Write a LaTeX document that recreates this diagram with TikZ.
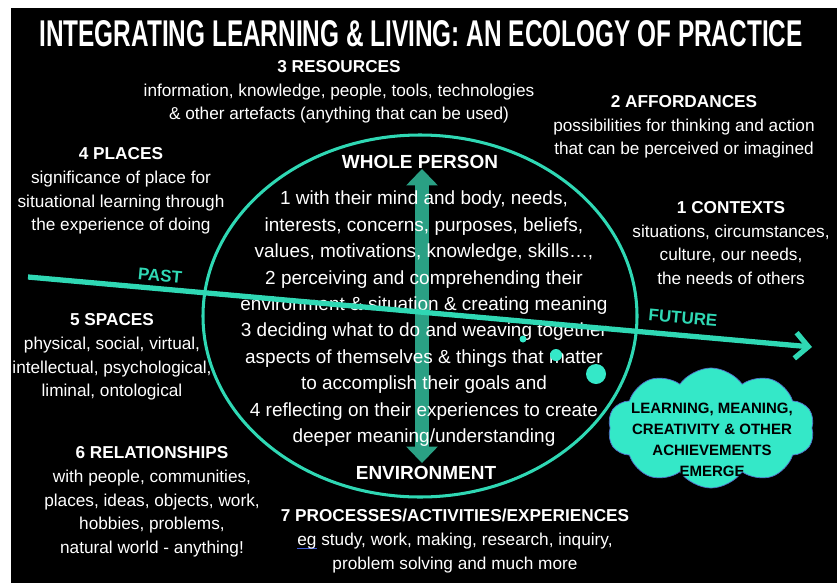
\documentclass[tikz,border=0pt]{standalone}
\usepackage{graphicx}
\usepackage{fontspec}
\setmainfont{Liberation Sans}
\usetikzlibrary{arrows.meta,shapes.symbols}

\definecolor{ecoteal}{RGB}{47,216,180}
\definecolor{arrowteal}{RGB}{42,160,132}
\definecolor{cloudfill}{RGB}{52,232,200}
\definecolor{cloudedge}{RGB}{80,110,200}
\definecolor{spellblue}{RGB}{60,90,220}

\newsavebox\spellbox
\newcommand\spellmark[1]{\sbox\spellbox{#1}\rlap{\textcolor{spellblue}{\rule[-0.4ex]{\wd\spellbox}{0.8pt}}}#1}

\tikzset{
  block/.style={text=white, align=center, font=\fontsize{14.7}{20.2}\selectfont},
  inner/.style={text=white, font=\fontsize{16.2}{20}\selectfont, inner sep=0pt},
  pole/.style={text=white, font=\bfseries\fontsize{16.2}{20}\selectfont, inner sep=1pt},
  timelabel/.style={text=ecoteal, font=\bfseries\fontsize{14.5}{17}\selectfont, rotate=-5.2},
}

\begin{document}
\begin{tikzpicture}[x=0.03cm, y=-0.03cm]
  % Page and black board
  \fill[white] (0,0) rectangle (837,583);
  \fill[black] (11,8) rectangle (837,583);
  \useasboundingbox (0,0) rectangle (837,583);

  % Title
  \node[text=white, inner sep=0pt] (title) at (421,34)
    {\resizebox{22.9cm}{0.78cm}{\bfseries INTEGRATING LEARNING \& LIVING: AN ECOLOGY OF PRACTICE}};

  % Person <-> environment
  \coordinate (up) at (422,169);
  \coordinate (down) at (422,463);
  \draw[arrowteal, line width=12.5pt,
        {Triangle[width=27pt,length=14pt,line width=0pt]}-{Triangle[width=27pt,length=14pt,line width=0pt]}]
    (up) -- (down);

  % Whole person
  \draw[ecoteal, line width=2.6pt] (420,316) ellipse [x radius=217, y radius=181];
  \node[pole] (whole) at (420,162) {WHOLE PERSON};
  \node[pole] (environment) at (426,473) {ENVIRONMENT};
  \foreach \ln [count=\i] in {
    {1 with their mind and body, needs,},
    {interests, concerns, purposes, beliefs,},
    {values, motivations, knowledge, skills\ldots,},
    {2 perceiving and comprehending their},
    {environment \& situation \& creating meaning},
    {3 deciding what to do and weaving together},
    {aspects of themselves \& things that matter},
    {to accomplish their goals and},
    {4 reflecting on their experiences to create},
    {deeper meaning/understanding}
  } {
    \node[inner] (person\i) at (424,173.6+26.4*\i) {\ln};
  }

  % Surrounding ecology
  \node[block] (resources) at (339,92)
    {\textbf{3 RESOURCES}\\information, knowledge, people, tools, technologies\\\& other artefacts (anything that can be used)};
  \node[block] (affordances) at (684,127)
    {\textbf{2 AFFORDANCES}\\possibilities for thinking and action\\that can be perceived or imagined};
  \node[block] (places) at (121,191)
    {\textbf{4 PLACES}\\significance of place for\\situational learning through\\the experience of doing};
  \node[block] (contexts) at (731,243)
    {\textbf{1 CONTEXTS}\\situations, circumstances,\\culture, our needs,\\the needs of others};
  \node[block] (spaces) at (112,357)
    {\textbf{5 SPACES}\\physical, social, virtual,\\intellectual, psychological,\\liminal, ontological};
  \node[block] (relationships) at (152,502)
    {\textbf{6 RELATIONSHIPS}\\with people, communities,\\places, ideas, objects, work,\\hobbies, problems,\\natural world - anything!};
  \node[block] (processes) at (455,541)
    {\textbf{7 PROCESSES/ACTIVITIES/EXPERIENCES}\\\spellmark{eg} study, work, making, research, inquiry,\\problem solving and much more};

  % Time line
  \coordinate (pastend) at (28,277);
  \coordinate (futureend) at (812,347);
  \draw[ecoteal, line width=4.5pt, -{Straight Barb[length=11pt,width=22pt]}] (pastend) -- (futureend);
  \node[timelabel] (past) at (160,276) {PAST};
  \node[timelabel] (future) at (683,318) {FUTURE};

  % Thought bubbles and outcome cloud
  \fill[cloudfill] (523,339) circle [radius=3.5];
  \fill[cloudfill] (556,355) circle [radius=6];
  \fill[cloudfill] (596,374) circle [radius=10];
  \node[cloud, cloud puffs=10, cloud puff arc=110, draw=cloudedge, line width=0.6pt, fill=cloudfill,
        minimum width=6.2cm, minimum height=3.6cm] (emerge) at (711,428) {};
  \node[align=center, text=black, font=\bfseries\fontsize{12.8}{18}\selectfont] (emergetext) at (712,440)
    {LEARNING, MEANING,\\CREATIVITY \& OTHER\\ACHIEVEMENTS\\EMERGE};
\end{tikzpicture}
\end{document}
